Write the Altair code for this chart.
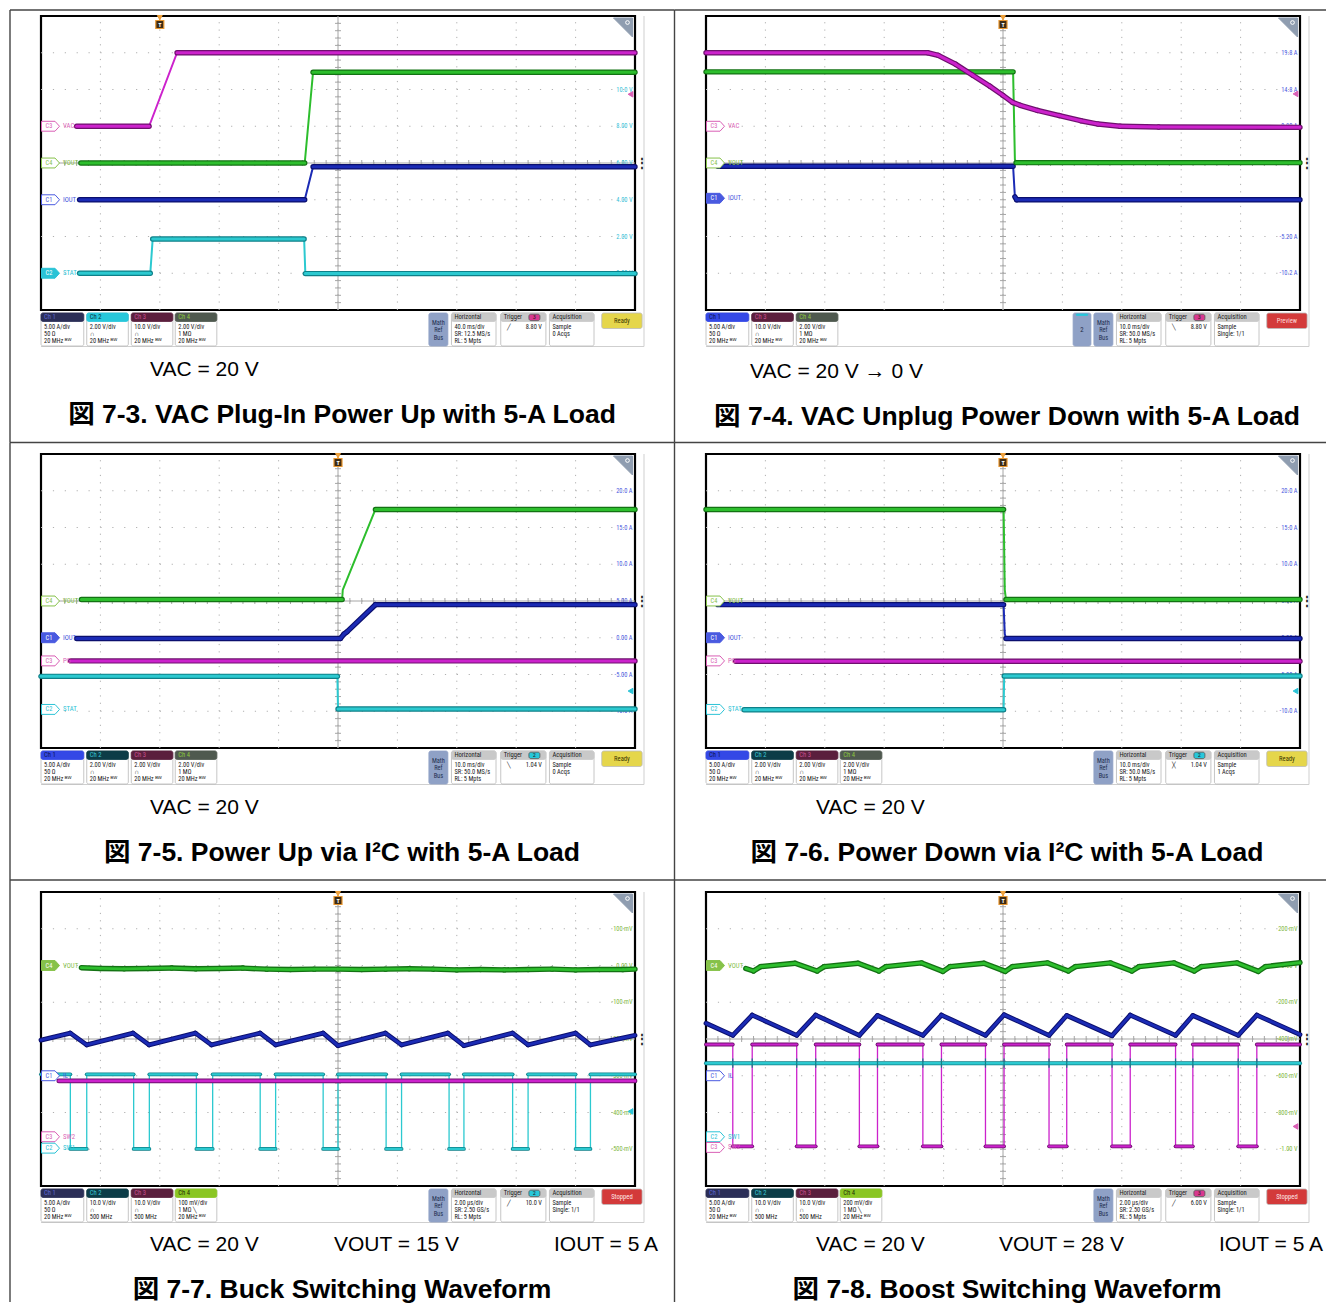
import altair as alt
import pandas as pd

# ------------------------------------------------------------------
# DATA  (scope divisions: x 0..10 left->right, y 0..8 bottom->top)
# ------------------------------------------------------------------
SCALE_LEVELS = [1, 2, 3, 4, 5, 6, 7]

# Fig 7-3
F73_VAC_X = [0.60, 1.82, 2.29, 10.0]
F73_VAC_Y = [5.00, 5.00, 7.00, 7.00]
F73_VOUT_X = [0.67, 4.44, 4.58, 10.0]
F73_VOUT_Y = [4.00, 4.00, 6.47, 6.47]
F73_IOUT_X = [0.65, 4.44, 4.58, 10.0]
F73_IOUT_Y = [3.00, 3.00, 3.90, 3.90]
F73_STAT_X = [0.65, 1.84, 1.88, 4.43, 4.45, 10.0]
F73_STAT_Y = [1.00, 1.00, 1.93, 1.93, 0.99, 0.99]
F73_SCALE = ["0.00 V", "2.00 V", "4.00 V", "6.00 V", "8.00 V", "10.0 V", "12.0 V"]

# Fig 7-4
F74_VAC_X = [0.0, 3.73, 3.91, 4.20, 4.49, 4.78, 5.00, 5.16, 5.29, 5.58, 5.95, 6.31, 6.60, 6.97, 7.62, 10.0]
F74_VAC_Y = [7.00, 7.00, 6.93, 6.69, 6.39, 6.09, 5.84, 5.65, 5.57, 5.43, 5.29, 5.15, 5.06, 5.00, 4.98, 4.97]
F74_VOUT_X = [0.0, 5.17, 5.20, 5.22, 10.0]
F74_VOUT_Y = [6.48, 6.48, 4.10, 4.01, 4.01]
F74_IOUT_X = [0.20, 5.17, 5.20, 5.23, 10.0]
F74_IOUT_Y = [3.91, 3.91, 3.08, 3.00, 3.00]
F74_SCALE = ["-10.2 A", "-5.20 A", "-0.20 A", "4.80 A", "9.80 A", "14.8 A", "19.8 A"]

# Fig 7-5
F75_VOUT_X = [0.68, 5.07, 5.08, 5.63, 10.0]
F75_VOUT_Y = [4.04, 4.04, 4.30, 6.49, 6.49]
F75_IOUT_X = [0.60, 5.04, 5.10, 5.15, 5.63, 10.0]
F75_IOUT_Y = [2.98, 2.98, 3.10, 3.16, 3.90, 3.90]
F75_PG_X = [0.50, 10.0]
F75_PG_Y = [2.37, 2.37]
F75_STAT_X = [0.0, 4.99, 5.00, 10.0]
F75_STAT_Y = [1.95, 1.95, 1.06, 1.06]
F75_SCALE = ["-10.0 A", "-5.00 A", "0.00 A", "5.00 A", "10.0 A", "15.0 A", "20.0 A"]

# Fig 7-6
F76_VOUT_X = [0.0, 5.01, 5.03, 5.05, 10.0]
F76_VOUT_Y = [6.49, 6.49, 4.30, 4.04, 4.04]
F76_IOUT_X = [0.20, 5.01, 5.03, 5.05, 10.0]
F76_IOUT_Y = [3.90, 3.90, 3.10, 2.98, 2.98]
F76_PG_X = [0.50, 10.0]
F76_PG_Y = [2.36, 2.36]
F76_STAT_X = [0.64, 5.01, 5.02, 10.0]
F76_STAT_Y = [1.04, 1.04, 1.96, 1.96]
F76_SCALE = ["-10.0 A", "-5.00 A", "0.00 A", "5.00 A", "10.0 A", "15.0 A", "20.0 A"]

# Fig 7-7 (buck)
F77_VOUT_X = [0.68, 1.0, 1.4, 1.8, 2.2, 2.6, 3.0, 3.4, 3.8, 4.2, 4.6, 5.0, 5.4,
              5.8, 6.2, 6.6, 7.0, 7.4, 7.8, 8.2, 8.6, 9.0, 9.4, 9.8, 10.0]
F77_VOUT_Y = [5.94, 5.92, 5.91, 5.92, 5.93, 5.91, 5.92, 5.93, 5.90, 5.89, 5.90, 5.90, 5.89,
              5.90, 5.91, 5.90, 5.88, 5.89, 5.88, 5.89, 5.90, 5.88, 5.89, 5.89, 5.90]
F77_IL_X = [0.0, 0.494, 0.77, 1.55, 1.82, 2.60, 2.87, 3.69, 3.95, 4.75,
            5.00, 5.80, 6.07, 6.85, 7.12, 7.94, 8.20, 9.00, 9.25, 10.0]
F77_IL_Y = [3.97, 4.16, 3.84, 4.16, 3.84, 4.16, 3.84, 4.16, 3.84, 4.16,
            3.82, 4.16, 3.84, 4.16, 3.82, 4.16, 3.84, 4.16, 3.84, 4.10]
F77_SW2_X = [0.30, 10.0]
F77_SW2_Y = [2.86, 2.86]
F77_SW1_FALL = [0.494, 1.56, 2.616, 3.69, 4.75, 5.81, 6.87, 7.94, 9.00]
F77_SW1_RISE = [0.77, 1.824, 2.89, 3.95, 5.00, 6.07, 7.12, 8.20, 9.25]
F77_SW1_LEVELS = [3.04, 1.01]
F77_SCALE = ["-500 mV", "-400 mV", "-300 mV", "-200 mV", "-100 mV", "0.00 V", "100 mV"]

# Fig 7-8 (boost)
F78_SW2_FALL = [0.451, 1.527, 2.582, 3.651, 4.705, 5.775, 6.836, 7.905, 8.960]
F78_SW2_RISE = [0.778, 1.847, 2.887, 3.964, 5.018, 6.073, 7.142, 8.196, 9.273]
F78_SW2_LEVELS = [3.85, 1.08]
F78_IL_X = [0.0, 0.451, 0.778, 1.527, 1.847, 2.582, 2.887, 3.651, 3.964, 4.705,
            5.018, 5.775, 6.073, 6.836, 7.142, 7.905, 8.196, 8.960, 9.273, 10.0]
F78_IL_Y = [4.43, 4.10, 4.65, 4.10, 4.65, 4.10, 4.64, 4.10, 4.65, 4.10,
            4.66, 4.10, 4.64, 4.09, 4.65, 4.10, 4.64, 4.10, 4.65, 4.12]
F78_VOUT_X = [0.67, 0.80, 0.92, 1.50, 1.87, 1.99, 2.56, 2.91, 3.03, 3.63, 3.99, 4.11, 4.68, 5.04,
              5.16, 5.75, 6.10, 6.22, 6.81, 7.17, 7.29, 7.88, 8.22, 8.34, 8.94, 9.30, 9.42, 10.0]
F78_VOUT_Y = [5.92, 5.85, 5.97, 6.06, 5.85, 5.97, 6.06, 5.85, 5.97, 6.07, 5.84, 5.97, 6.06, 5.84,
              5.97, 6.07, 5.85, 5.97, 6.07, 5.85, 5.97, 6.07, 5.85, 5.97, 6.07, 5.84, 5.97, 6.08]
F78_SW1_X = [0.0, 10.0]
F78_SW1_Y = [3.34, 3.34]
F78_SCALE = ["-1.00 V", "-800 mV", "-600 mV", "-400 mV", "-200 mV", "0.00 V", "200 mV"]

BW = "20 MHz ᴮᵂ"
F73_CHANS = [("Ch 1", "navy", ["5.00 A/div", "50 Ω", BW]), ("Ch 2", "cyan", ["2.00 V/div", "∩", BW]),
             ("Ch 3", "maroon", ["10.0 V/div", "∩", BW]), ("Ch 4", "olive", ["2.00 V/div", "1 MΩ", BW])]
F74_CHANS = [("Ch 1", "blue", ["5.00 A/div", "50 Ω", BW]), ("Ch 3", "maroon", ["10.0 V/div", "∩", BW]),
             ("Ch 4", "olive", ["2.00 V/div", "1 MΩ", BW])]
F75_CHANS = [("Ch 1", "blue", ["5.00 A/div", "50 Ω", BW]), ("Ch 2", "teal", ["2.00 V/div", "∩", BW]),
             ("Ch 3", "maroon", ["2.00 V/div", "∩", BW]), ("Ch 4", "olive", ["2.00 V/div", "1 MΩ", BW])]
F77_CHANS = [("Ch 1", "navy", ["5.00 A/div", "50 Ω", BW]), ("Ch 2", "teal", ["10.0 V/div", "∩", "500 MHz"]),
             ("Ch 3", "maroon", ["10.0 V/div", "∩", "500 MHz"]), ("Ch 4", "green", ["100 mV/div", "1 MΩ ╲", BW])]
F78_CHANS = [("Ch 1", "navy", ["5.00 A/div", "50 Ω", BW]), ("Ch 2", "teal", ["10.0 V/div", "∩", "500 MHz"]),
             ("Ch 3", "maroon", ["10.0 V/div", "∩", "500 MHz"]), ("Ch 4", "green", ["200 mV/div", "1 MΩ ╲", BW])]

# ------------------------------------------------------------------
# STYLE / GEOMETRY
# ------------------------------------------------------------------
W, H = 594, 294
PXX, PXY = W / 10.0, H / 8.0


def dx(px):
    return px / PXX


def dy(px):
    return 8.0 - px / PXY


SCOPE_FONT = "Liberation Sans Narrow, Roboto Condensed, Liberation Sans, sans-serif"
DOC_FONT = "Liberation Sans, Arial, Noto Sans CJK JP, sans-serif"

CH_BRIGHT = {1: "#1B2BB5", 2: "#2CC9D0", 3: "#CC22CC", 4: "#2DBE2D"}
CH_DARK = {1: "#0B0F6E", 2: "#0E8089", 3: "#6E106E", 4: "#137213"}
CH_LABEL = {1: "#4A5AE0", 2: "#2BC3D6", 3: "#D95FB5", 4: "#86C24A"}
SCALE_COL = {1: "#4B5BE0", 2: "#35BFD8", 4: "#80B840"}
HDR = {
    "navy": ("#2B2E57", "#5B66D6"),
    "blue": ("#3448E6", "#0E1650"),
    "cyan": ("#27C7DA", "#0C3340"),
    "teal": ("#0C3C47", "#3AC6D6"),
    "maroon": ("#5B1F3D", "#C8508E"),
    "olive": ("#4F594F", "#8DC73F"),
    "green": ("#8AC623", "#1E3008"),
}
BOX_STROKE = "#B8B8B8"
CH_BOX_X = [(0.0, 0.72), (0.77, 1.47), (1.52, 2.22), (2.26, 2.96)]
TWO_X = (6.18, 6.48)
MATH_X = (6.53, 6.85)
HORIZ_X = (6.91, 7.66)
TRIG_X = (7.74, 8.50)
ACQ_X = (8.56, 9.31)
STATE_X = (9.44, 10.12)
TRIG_BADGE = {2: "#27C7DA", 3: "#D8388F"}
STATE_STYLE = {"Ready": ("#E5D64B", "#3a3500"), "Preview": ("#D33A3A", "#ffd8d8"),
               "Stopped": ("#D33A3A", "#ffe6e6")}
TAG_PATH = "M-1,-0.55L0.5,-0.55L1,0L0.5,0.55L-1,0.55Z"


def X_():
    return alt.X("x:Q", scale=alt.Scale(domain=[0, 10], nice=False, zero=False), axis=None)


def Y_():
    return alt.Y("y:Q", scale=alt.Scale(domain=[0, 8], nice=False, zero=False), axis=None)


def rules(rows, color, width, dash=None, cap="butt", opacity=1.0):
    df = pd.DataFrame(rows, columns=["x", "y", "x2", "y2"])
    kw = dict(color=color, strokeWidth=width, strokeCap=cap, opacity=opacity)
    if dash is not None:
        kw["strokeDash"] = dash
    return alt.Chart(df).mark_rule(**kw).encode(
        x=X_(), y=Y_(), x2=alt.X2("x2:Q"), y2=alt.Y2("y2:Q"))


def ticks(rows, orient, size, color):
    df = pd.DataFrame(rows, columns=["x", "y"])
    return alt.Chart(df).mark_tick(orient=orient, size=size, thickness=1, color=color,
                                   opacity=1).encode(x=X_(), y=Y_())


def texts(rows, align="left", weight="normal", font=SCOPE_FONT, baseline="middle"):
    df = pd.DataFrame(rows, columns=["x", "y", "t", "c", "s"])
    return alt.Chart(df).mark_text(align=align, baseline=baseline, fontWeight=weight,
                                   font=font).encode(
        x=X_(), y=Y_(), text=alt.Text("t:N"),
        color=alt.Color("c:N", scale=None, legend=None),
        size=alt.Size("s:Q", scale=None, legend=None))


def rects(rows, corner=2, sw=0.8):
    df = pd.DataFrame(rows, columns=["x", "x2", "y", "y2", "f", "k"])
    return alt.Chart(df).mark_rect(cornerRadius=corner, strokeWidth=sw, opacity=1).encode(
        x=X_(), x2=alt.X2("x2:Q"), y=Y_(), y2=alt.Y2("y2:Q"),
        fill=alt.Fill("f:N", scale=None, legend=None),
        stroke=alt.Stroke("k:N", scale=None, legend=None))


def points(rows, shape, size, sw=1.0, filled=True):
    df = pd.DataFrame(rows, columns=["x", "y", "f", "k"])
    return alt.Chart(df).mark_point(shape=shape, size=size, filled=filled, opacity=1,
                                    strokeWidth=sw).encode(
        x=X_(), y=Y_(),
        fill=alt.Fill("f:N", scale=None, legend=None),
        stroke=alt.Stroke("k:N", scale=None, legend=None))


def polyline(xs, ys, color, width):
    df = pd.DataFrame({"x": xs, "y": ys, "i": list(range(len(xs)))})
    return alt.Chart(df).mark_line(color=color, strokeWidth=width, strokeJoin="round").encode(
        x=X_(), y=Y_(), order=alt.Order("i:Q"))


def step_path(fall, rise, levels):
    hi, lo = levels
    xs, ys = [0.0], [hi]
    for f, r in zip(fall, rise):
        xs += [f, f, r, r]
        ys += [hi, lo, lo, hi]
    xs.append(10.0)
    ys.append(hi)
    return xs, ys


def trace(xs, ys, ch, thin=2.0, under=5.4, over=3.0, thin_col=None):
    layers = [polyline(xs, ys, thin_col or CH_BRIGHT[ch], thin)]
    segs = []
    for a in range(len(xs) - 1):
        ddx = (xs[a + 1] - xs[a]) * PXX
        ddy = (ys[a + 1] - ys[a]) * PXY
        if ddx > 0 and abs(ddy) <= 2.0 * ddx:
            segs.append((xs[a], ys[a], xs[a + 1], ys[a + 1]))
    if segs:
        layers.append(rules(segs, CH_DARK[ch], under, cap="round"))
        layers.append(rules(segs, CH_BRIGHT[ch], over, cap="round"))
    return layers


def status_layers(sp):
    rr, tl, tc, tr = [], [], [], []
    yT, yH, yB = dy(H + 3), dy(H + 11.5), dy(H + 36)
    rows3 = (dy(H + 16.5), dy(H + 23.5), dy(H + 31))
    yh = dy(H + 7.4)
    for (title, style, lines), (x0, x1) in zip(sp["chans"], CH_BOX_X):
        hf, ht = HDR[style]
        rr.append((x0, x1, yT, yB, "#ffffff", BOX_STROKE))
        rr.append((x0, x1, yT, yH, hf, hf))
        tl.append((x0 + dx(3), yh, title, ht, 6.6))
        for yy, s in zip(rows3, lines):
            tl.append((x0 + dx(3), yy, s, "#202020", 6.4))
    if sp.get("two"):
        x0, x1 = TWO_X
        rr.append((x0, x1, yT, yB, "#8FA1C6", "#8FA1C6"))
        rr.append((x0 + dx(3), x1 - dx(3), dy(H + 4), dy(H + 5.5), "#27C7DA", "#27C7DA"))
        tc.append(((x0 + x1) / 2, dy(H + 20), "2", "#1f2a44", 6.8))
    x0, x1 = MATH_X
    rr.append((x0, x1, yT, yB, "#8FA1C6", "#8FA1C6"))
    for yy, s in zip((dy(H + 12.5), dy(H + 20), dy(H + 27.5)), ("Math", "Ref", "Bus")):
        tc.append(((x0 + x1) / 2, yy, s, "#243050", 6.4))
    for (x0, x1), title, lines in ((HORIZ_X, "Horizontal", sp["horiz"]),
                                   (TRIG_X, "Trigger", []),
                                   (ACQ_X, "Acquisition", sp["acq"])):
        rr.append((x0, x1, yT, yB, "#ffffff", BOX_STROKE))
        rr.append((x0, x1, yT, yH, "#C9C9C9", "#C9C9C9"))
        tl.append((x0 + dx(3), yh, title, "#202020", 6.6))
        for yy, s in zip(rows3, lines):
            tl.append((x0 + dx(3), yy, s, "#202020", 6.4))
    bx0, bx1 = TRIG_X[1] - dx(17), TRIG_X[1] - dx(6)
    rr.append((bx0, bx1, dy(H + 4.2), dy(H + 10.6), TRIG_BADGE[sp["trig_ch"]], "#555555"))
    tc.append(((bx0 + bx1) / 2, yh, str(sp["trig_ch"]), "#202020", 6.2))
    tl.append((TRIG_X[0] + dx(6), rows3[0], sp["trig_icon"], "#202020", 6.4))
    tr.append((TRIG_X[1] - dx(4), rows3[0], sp["trig_lvl"], "#202020", 6.4))
    x0, x1 = STATE_X
    fill, tcol = STATE_STYLE[sp["state"]]
    rr.append((x0, x1, yT, dy(H + 18.5), fill, "#bbbbbb"))
    tc.append(((x0 + x1) / 2, dy(H + 10.5), sp["state"], tcol, 6.6))
    out = [rects(rr)]
    if tl:
        out.append(texts(tl, align="left"))
    if tc:
        out.append(texts(tc, align="center"))
    if tr:
        out.append(texts(tr, align="right"))
    return out


ROW_TOP = [-6, -11.5, -12]
ROW_BOT = [426.5, 426, 410]
COL_LEFT = [-31, -31.5]
COL_RIGHT = [633.5, 620]


def panel(sp):
    L = []
    # graticule
    L.append(rules([(0, k, 10, k) for k in range(1, 8)], "#b0b0b0", 1, dash=[1.2, PXX / 5 - 1.2]))
    L.append(rules([(k, 0, k, 8) for k in range(1, 10)], "#b0b0b0", 1, dash=[1.2, PXY / 5 - 1.2]))
    L.append(rules([(5, 0, 5, 8), (0, 4, 10, 4)], "#a6a6a6", 1))
    L.append(ticks([(5, v / 5) for v in range(1, 40)], "horizontal", 6, "#a6a6a6"))
    L.append(ticks([(v / 5, 4) for v in range(1, 50)], "vertical", 6, "#a6a6a6"))
    # right-hand scale read-outs
    L.append(texts([(10 - dx(2.5), lv, lab, SCALE_COL[sp["scale_ch"]], 6.4)
                    for lv, lab in zip(SCALE_LEVELS, sp["scale"])], align="right"))
    # scope window outline + status bar
    L.append(rules([(dx(603), 8, dx(603), dy(H + 36.5)),
                    (0, dy(H + 36.5), dx(603), dy(H + 36.5))], "#cfcfcf", 1))
    L += status_layers(sp)
    # traces
    for tr in sp["traces"]:
        xs, ys, ch = tr[0], tr[1], tr[2]
        opts = tr[3] if len(tr) > 3 else {}
        L += trace(xs, ys, ch, **opts)
    for extra in sp.get("extra", []):
        L.append(extra)
    # channel tags
    pts, ttx, ltx = [], [], []
    for ch, yv, filled, lab in sp["tags"]:
        col = CH_LABEL[ch]
        pts.append((dx(9.5), yv, col if filled else "#ffffff", col))
        ttx.append((dx(8), yv, "C%d" % ch, "#ffffff" if filled else col, 6.4))
        ltx.append((dx(22), yv, lab, col, 6.8))
    L.append(points(pts, TAG_PATH, 324, sw=1))
    L.append(texts(ttx, align="center"))
    L.append(texts(ltx, align="left"))
    # trigger marker, zoom icon, arrow, handle
    t = sp["trig"]
    L.append(rules([(t, dy(0), t, dy(5))], "#E8962F", 1))
    L.append(points([(t, dy(1.6), "#F0A23C", "#F0A23C")], "triangle-down", 24))
    L.append(points([(t, dy(8.5), "#3d2c16", "#E8962F")], "square", 64, sw=1.2))
    L.append(texts([(t, dy(8.5), "T", "#ffffff", 6)], align="center", weight="bold"))
    L.append(points([(dx(582), dy(11.5), "#8F9DB0", "#8F9DB0")], "M-1,-1L1,-1L1,1Z", 361))
    L.append(points([(dx(586.5), dy(6.5), "transparent", "#ffffff")], "circle", 14, sw=1, filled=False))
    ach, ay = sp["arrow"]
    L.append(points([(dx(589.5), ay, CH_LABEL[ach], CH_LABEL[ach])], "triangle-left", 30))
    L.append(texts([(dx(601), 4.0, "⋮", "#222222", 12)], align="center", weight="bold"))
    # document captions
    L.append(texts([(dx(px), dy(sp["sub_y"]), s, "#000000", 21) for s, px in sp["sub"]],
                   align="left", font=DOC_FONT))
    L.append(texts([(dx(301), dy(sp["cap_y"]), sp["cap"], "#000000", 26.5)],
                   align="center", weight="bold", font=DOC_FONT))
    # table rules
    r, c = sp["row"], sp["col"]
    xl, xr = dx(COL_LEFT[c]), dx(COL_RIGHT[c])
    yt, yb = dy(ROW_TOP[r]), dy(ROW_BOT[r])
    lines = [(xl, yt, xl, yb)]
    if r == 0:
        lines.append((xl, yt, xr, yt))
    if r < 2:
        lines.append((xl, yb, xr, yb))
    L.append(rules(lines, "#444444", 1.4))
    return alt.layer(*L).properties(width=W, height=H)


SW1_77_X, SW1_77_Y = step_path(F77_SW1_FALL, F77_SW1_RISE, F77_SW1_LEVELS)
SW2_78_X, SW2_78_Y = step_path(F78_SW2_FALL, F78_SW2_RISE, F78_SW2_LEVELS)

SWOPT = dict(thin=1.3, under=3.8, over=2.2)
LVL = dict(under=4.8, over=2.8)

spikes78 = rules([(v, 3.22, v, 3.47) for v in F78_SW2_FALL + F78_SW2_RISE], "#147F86", 1.2)

SPECS = [
    dict(row=0, col=0,
         traces=[(F73_STAT_X, F73_STAT_Y, 2), (F73_IOUT_X, F73_IOUT_Y, 1),
                 (F73_VOUT_X, F73_VOUT_Y, 4), (F73_VAC_X, F73_VAC_Y, 3)],
         tags=[(3, 5.0, False, "VAC"), (4, 4.0, False, "VOUT"), (1, 3.0, False, "IOUT"),
               (2, 1.0, True, "STAT")],
         scale_ch=2, scale=F73_SCALE, arrow=(3, 5.87), trig=2.0,
         chans=F73_CHANS, horiz=["40.0 ms/div", "SR: 12.5 MS/s", "RL: 5 Mpts"],
         trig_ch=3, trig_icon="╱", trig_lvl="8.80 V", acq=["Sample", "0 Acqs"], state="Ready",
         sub=[("VAC = 20 V", 109)], sub_y=354,
         cap="図 7-3. VAC Plug-In Power Up with 5-A Load", cap_y=399),
    dict(row=0, col=1,
         traces=[(F74_IOUT_X, F74_IOUT_Y, 1), (F74_VOUT_X, F74_VOUT_Y, 4),
                 (F74_VAC_X, F74_VAC_Y, 3)],
         tags=[(3, 5.0, False, "VAC"), (4, 4.0, False, "VOUT"), (1, 3.04, True, "IOUT")],
         scale_ch=1, scale=F74_SCALE, arrow=(3, 5.88), trig=5.0,
         chans=F74_CHANS, two=True, horiz=["10.0 ms/div", "SR: 50.0 MS/s", "RL: 5 Mpts"],
         trig_ch=3, trig_icon="╲", trig_lvl="8.80 V", acq=["Sample", "Single: 1/1"],
         state="Preview",
         sub=[("VAC = 20 V → 0 V", 44)], sub_y=356,
         cap="図 7-4. VAC Unplug Power Down with 5-A Load", cap_y=401),
    dict(row=1, col=0,
         traces=[(F75_STAT_X, F75_STAT_Y, 2), (F75_PG_X, F75_PG_Y, 3),
                 (F75_IOUT_X, F75_IOUT_Y, 1), (F75_VOUT_X, F75_VOUT_Y, 4)],
         tags=[(4, 4.0, False, "VOUT"), (1, 3.0, True, "IOUT"), (3, 2.37, False, "PG"),
               (2, 1.05, False, "STAT")],
         scale_ch=1, scale=F75_SCALE, arrow=(2, 1.55), trig=5.0,
         chans=F75_CHANS, horiz=["10.0 ms/div", "SR: 50.0 MS/s", "RL: 5 Mpts"],
         trig_ch=2, trig_icon="╲", trig_lvl="1.04 V", acq=["Sample", "0 Acqs"], state="Ready",
         sub=[("VAC = 20 V", 109)], sub_y=354,
         cap="図 7-5. Power Up via I²C with 5-A Load", cap_y=399),
    dict(row=1, col=1,
         traces=[(F76_STAT_X, F76_STAT_Y, 2), (F76_PG_X, F76_PG_Y, 3),
                 (F76_IOUT_X, F76_IOUT_Y, 1), (F76_VOUT_X, F76_VOUT_Y, 4)],
         tags=[(4, 4.0, False, "VOUT"), (1, 3.0, True, "IOUT"), (3, 2.37, False, "PG"),
               (2, 1.05, False, "STAT")],
         scale_ch=1, scale=F76_SCALE, arrow=(2, 1.55), trig=5.0,
         chans=F75_CHANS, horiz=["10.0 ms/div", "SR: 50.0 MS/s", "RL: 5 Mpts"],
         trig_ch=2, trig_icon="╳", trig_lvl="1.04 V", acq=["Sample", "1 Acqs"], state="Ready",
         sub=[("VAC = 20 V", 110)], sub_y=354,
         cap="図 7-6. Power Down via I²C with 5-A Load", cap_y=399),
    dict(row=2, col=0,
         traces=[(SW1_77_X, SW1_77_Y, 2, SWOPT), (F77_SW2_X, F77_SW2_Y, 3, LVL),
                 (F77_IL_X, F77_IL_Y, 1, LVL), (F77_VOUT_X, F77_VOUT_Y, 4, dict(under=5.4, over=2.8))],
         tags=[(4, 6.0, True, "VOUT"), (1, 3.0, False, "IL"), (3, 1.34, False, "SW2"),
               (2, 1.03, False, "SW1")],
         scale_ch=4, scale=F77_SCALE, arrow=(2, 2.03), trig=5.0,
         chans=F77_CHANS, horiz=["2.00 µs/div", "SR: 2.50 GS/s", "RL: 5 Mpts"],
         trig_ch=2, trig_icon="╱", trig_lvl="10.0 V", acq=["Sample", "Single: 1/1"],
         state="Stopped",
         sub=[("VAC = 20 V", 109), ("VOUT = 15 V", 293), ("IOUT = 5 A", 513)], sub_y=353,
         cap="図 7-7. Buck Switching Waveform", cap_y=398),
    dict(row=2, col=1,
         traces=[(SW2_78_X, SW2_78_Y, 3, SWOPT), (F78_SW1_X, F78_SW1_Y, 2, dict(under=4.0, over=2.4))],
         extra=[spikes78] + trace(F78_IL_X, F78_IL_Y, 1, **LVL)
               + trace(F78_VOUT_X, F78_VOUT_Y, 4, under=5.4, over=2.8),
         tags=[(4, 6.0, True, "VOUT"), (1, 3.0, False, "IL"), (2, 1.34, False, "SW1"),
               (3, 1.05, False, "SW2")],
         scale_ch=4, scale=F78_SCALE, arrow=(3, 1.62), trig=5.0,
         chans=F78_CHANS, horiz=["2.00 µs/div", "SR: 2.50 GS/s", "RL: 5 Mpts"],
         trig_ch=3, trig_icon="╱", trig_lvl="6.00 V", acq=["Sample", "Single: 1/1"],
         state="Stopped",
         sub=[("VAC = 20 V", 110), ("VOUT = 28 V", 293), ("IOUT = 5 A", 513)], sub_y=353,
         cap="図 7-8. Boost Switching Waveform", cap_y=398),
]

panels = [panel(sp) for sp in SPECS]

chart = alt.concat(*panels, columns=2, spacing={"row": 144, "column": 71},
                   bounds="flush").properties(padding=0).configure_view(
    stroke="#000000", strokeWidth=2.2)

chart.save("out.html", embed_options={"renderer": "svg", "actions": False})
